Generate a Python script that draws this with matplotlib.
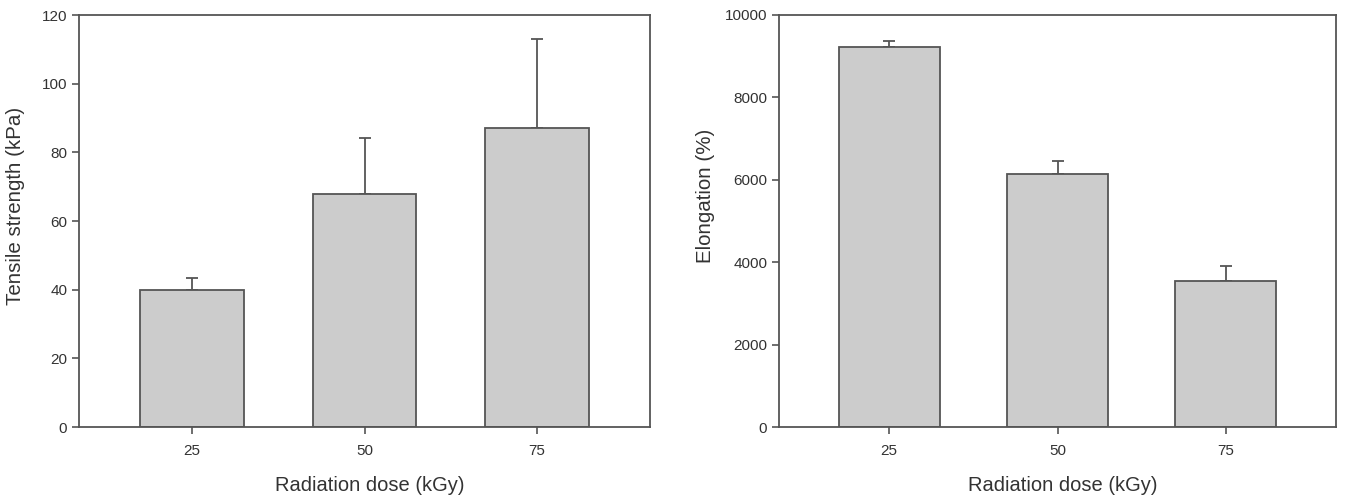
import matplotlib
matplotlib.use("Agg")
import matplotlib.pyplot as plt
import numpy as np

plt.rcParams['font.family'] = ['Liberation Sans', 'DejaVu Sans']

doses = ['25', '50', '75']
tensile = [40, 68, 87]
tensile_err = [3.5, 16.3, 26]
elong = [9220, 6140, 3540]
elong_err = [160, 310, 370]

line_c = '#555555'
text_c = '#333333'
bar_c = '#cccccc'


def draw_panel(ax, vals, errs, ylim, yticks, ylabel, ylpad, ly):
    x = np.arange(len(doses))
    ax.bar(x, vals, width=0.6, color=bar_c, edgecolor=line_c, linewidth=1.3, zorder=2)
    ax.errorbar(x, vals, yerr=[np.zeros(len(errs)), errs], fmt='none',
                ecolor=line_c, elinewidth=1.3, capsize=4.5, capthick=1.3, zorder=1)
    ax.set_xlim(-0.655, 2.655)
    ax.set_ylim(*ylim)
    ax.set_yticks(yticks)
    ax.set_xticks(x)
    ax.set_xticklabels(doses)
    for s in ax.spines.values():
        s.set_color(line_c)
        s.set_linewidth(1.3)
    ax.tick_params(axis='both', colors=line_c, labelcolor=text_c, labelsize=11,
                   length=5, width=1.2, direction='out')
    ax.tick_params(axis='x', pad=7)
    ax.set_xlabel('Radiation dose (kGy)', fontsize=14.5, color=text_c, labelpad=13, x=0.51)
    ax.set_ylabel(ylabel, fontsize=14.8, color=text_c, labelpad=ylpad, y=ly)


fig = plt.figure(figsize=(13.48, 4.98), dpi=100)
ax1 = fig.add_axes([79 / 1348, 1 - 427 / 498, 571 / 1348, 412 / 498])
ax2 = fig.add_axes([779 / 1348, 1 - 427 / 498, 557 / 1348, 412 / 498])

draw_panel(ax1, tensile, tensile_err, (0, 120), np.arange(0, 121, 20),
           'Tensile strength (kPa)', 12, 0.536)
draw_panel(ax2, elong, elong_err, (0, 10000), np.arange(0, 10001, 2000),
           'Elongation (%)', 7, 0.56)

fig.savefig('out.png', dpi=100)
